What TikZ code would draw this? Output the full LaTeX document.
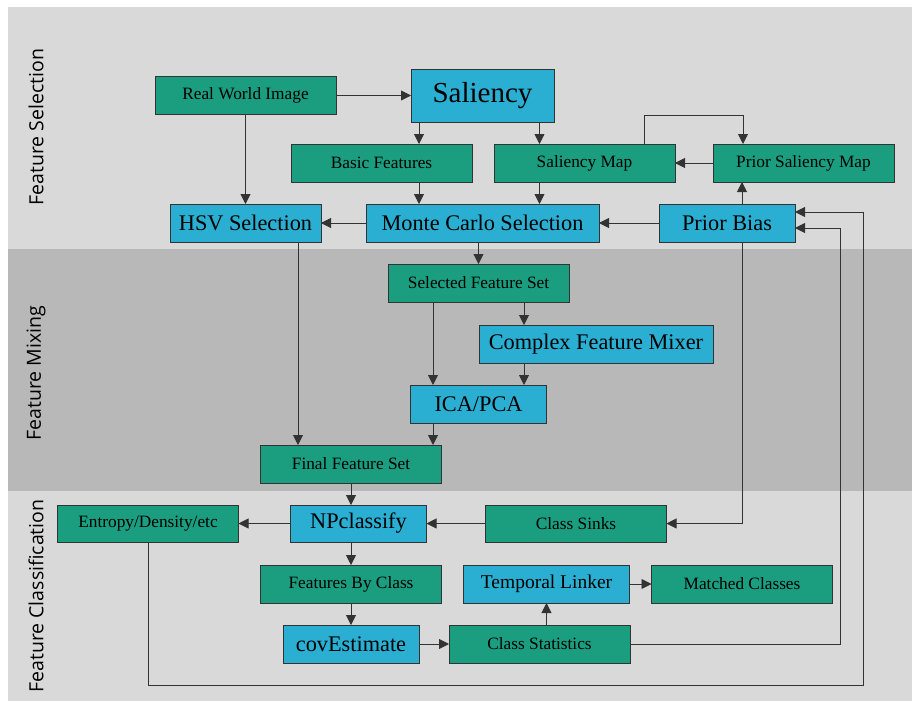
\documentclass[tikz,border=0pt]{standalone}
\usepackage{fontspec}
\setmainfont{Liberation Serif}
\newfontfamily\bandfont{Open Sans}
\usetikzlibrary{arrows.meta, positioning}
\usepackage{xcolor}
\definecolor{datagreen}{HTML}{1B9E80}
\definecolor{procblue}{HTML}{2AAFD3}
\definecolor{bandlight}{HTML}{D9D9D9}
\definecolor{banddark}{HTML}{B8B8B8}
\definecolor{edgegray}{HTML}{333333}

\begin{document}
\begin{tikzpicture}[
        x=1pt, y=1pt,
        node distance=22pt and 22pt,
        data/.style={draw=edgegray, line width=0.9pt, outer sep=0pt, fill=datagreen, minimum width=181pt, minimum height=38pt, inner sep=0pt, font=\fontsize{17.3}{20}\selectfont},
        proc/.style={draw=edgegray, line width=0.9pt, outer sep=0pt, fill=procblue, minimum width=136pt, minimum height=38pt, inner sep=0pt, font=\fontsize{22.3}{26}\selectfont},
        band/.style={rotate=90, font=\bandfont\fontsize{19.5}{22}\selectfont},
        arrow/.style={-{Triangle[length=10pt,width=10pt]}, line width=0.9pt, draw=edgegray}
    ]

    \useasboundingbox (0,0) rectangle (912,-701);
    % stage bands
    \fill[bandlight] (8,-7) rectangle (912,-249);
    \fill[banddark] (8,-249) rectangle (912,-491);
    \fill[bandlight] (8,-491) rectangle (912,-701);
    \node[band] (selband) at (36,-127) {Feature Selection};
    \node[band] (mixband) at (36,-373) {Feature Mixing};
    \node[band] (clsband) at (36,-596) {Feature Classification};

    \node[data] (rwi) at (245.5,-95.5) {Real World Image};
    \node[proc, minimum width=143pt, minimum height=53pt, font=\fontsize{29}{34}\selectfont, right=75pt of rwi] (sal) {Saliency};
    \node[data, below=of sal, xshift=-101pt] (basic) {Basic Features};
    \node[data, right=of basic] (smap) {Saliency Map};
    \node[data, right=38pt of smap] (psmap) {Prior Saliency Map};

    \node[proc, minimum width=233pt, below=82pt of sal] (monte) {Monte Carlo Selection};
    \node[proc, minimum width=151pt, left=45pt of monte] (hsv) {HSV Selection};
    \node[proc, right=60pt of monte] (bias) {Prior Bias};

    \node[data, below=of monte, xshift=-4pt] (selset) {Selected Feature Set};
    \node[proc, minimum width=234pt, below=23pt of selset, xshift=117.5pt] (mixer) {Complex Feature Mixer};
    \node[proc, below=83pt of selset] (ica) {ICA/PCA};
    \node[data, below=of ica, xshift=-127.5pt] (final) {Final Feature Set};

    \node[proc, minimum height=37pt, below=of final, xshift=7.5pt] (npc) {NPclassify};
    \node[data, minimum height=37pt, left=52pt of npc] (entropy) {Entropy/Density/etc};
    \node[data, minimum height=37pt, right=59pt of npc] (sinks) {Class Sinks};
    \node[data, below=23pt of npc, xshift=-7.5pt] (byclass) {Features By Class};
    \node[proc, minimum width=166pt, font=\fontsize{19.5}{23}\selectfont, right=of byclass] (linker) {Temporal Linker};
    \node[data, right=of linker] (matched) {Matched Classes};
    \node[proc, below=of byclass] (cov) {covEstimate};
    \node[data, right=30pt of cov] (stats) {Class Statistics};

    \draw[arrow] (rwi) -- (sal);
    \draw[arrow] (rwi) -- (hsv);
    \draw[arrow] ([xshift=-63.5pt]sal.south) -- ([xshift=-63.5pt]sal.south |- basic.north);
    \draw[arrow] ([xshift=-45pt]smap.north |- sal.south) -- ([xshift=-45pt]smap.north);
    \draw[arrow] ([xshift=37.5pt]basic.south) -- ([xshift=37.5pt]basic.south |- monte.north);
    \draw[arrow] ([xshift=-45pt]smap.south) -- ([xshift=-45pt]smap.south |- monte.north);
    \draw[arrow] ([xshift=60pt]smap.north) -- ++(0,29) -| ([xshift=-60.5pt]psmap.north);
    \draw[arrow] (psmap) -- (smap);
    \draw[arrow] ([xshift=15pt]bias.north) -- ([xshift=15pt]bias.north |- psmap.south);
    \draw[arrow] (bias) -- (monte);
    \draw[arrow] (monte) -- (hsv);

    \draw[arrow] (monte.south -| selset.north) -- (selset.north);
    \draw[arrow] ([xshift=52.5pt]hsv.south) -- ([xshift=52.5pt]hsv.south |- final.north);
    \draw[arrow] ([xshift=-45.5pt]selset.south) -- ([xshift=-45.5pt]selset.south |- ica.north);
    \draw[arrow] ([xshift=45.5pt]selset.south) -- ([xshift=45.5pt]selset.south |- mixer.north);
    \draw[arrow] ([xshift=45.5pt]selset.south |- mixer.south) -- ([xshift=45.5pt]selset.south |- ica.north);
    \draw[arrow] ([xshift=-45.5pt]selset.south |- ica.south) -- ([xshift=-45.5pt]selset.south |- final.north);
    \draw[arrow] (final.south) -- (final.south |- npc.north);

    \draw[arrow] (npc) -- (entropy);
    \draw[arrow] (sinks) -- (npc);
    \draw[arrow] ([xshift=15pt]bias.south) |- (sinks.east);
    \draw[arrow] (npc.south -| byclass.north) -- (byclass.north);
    \draw[arrow] (byclass.south) -- (byclass.south |- cov.north);
    \draw[arrow] (cov) -- (stats);
    \draw[arrow] (stats.north -| linker.south) -- (linker.south);
    \draw[arrow] (linker) -- (matched);
    % feedback loops into the prior
    \draw[arrow] (stats.east) -- ++(210,0) |- ([yshift=-5pt]bias.east);
    \draw[arrow] (entropy.south) -- ++(0,-143) -- ++(715,0) |- ([yshift=11pt]bias.east);

\end{tikzpicture}
\end{document}
